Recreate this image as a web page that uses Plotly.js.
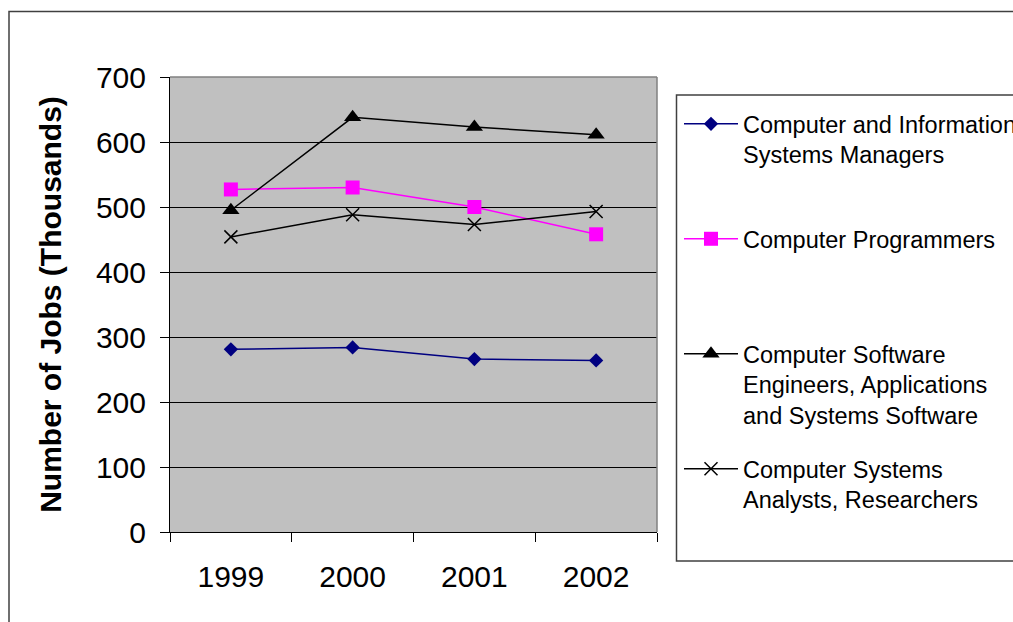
<!DOCTYPE html>
<html>
<head>
<meta charset="utf-8">
<script src="https://cdn.plot.ly/plotly-3.0.1.min.js"></script>
<style>html,body{margin:0;padding:0;background:#fff;overflow:hidden;}#chart{width:1013px;height:622px;overflow:hidden;}</style>
</head>
<body>
<div id="chart"></div>
<script>
var years = ["1999", "2000", "2001", "2002"];
var managers = [281, 284, 266, 264];
var programmers = [527, 530, 500, 458];
var softwareEngineers = [495, 638, 623, 611];
var systemsAnalysts = [454, 488, 473, 493];
var yTicks = [0, 100, 200, 300, 400, 500, 600, 700];

var FONT = "'Liberation Sans', Arial, sans-serif";

// plot area in px
var L = 170, R = 657, T = 77, B = 532, W = 1013, H = 622;
function px(x) { return (x - L) / (R - L); }
function py(y) { return (B - y) / (B - T); }

var traces = [
  {x: years, y: managers, name: "Computer and Information<br>Systems Managers", type: "scatter", mode: "lines+markers",
   line: {color: "#000080", width: 1.5}, marker: {symbol: "diamond", size: 11, color: "#000080"}, legend: "legend"},
  {x: years, y: programmers, name: "Computer Programmers", type: "scatter", mode: "lines+markers",
   line: {color: "#FF00FF", width: 1.5}, marker: {symbol: "square", size: 14, color: "#FF00FF"}, legend: "legend2"},
  {x: years, y: softwareEngineers, name: "Computer Software<br>Engineers, Applications<br>and Systems Software", type: "scatter", mode: "lines+markers",
   line: {color: "#000000", width: 1.5}, marker: {symbol: "triangle-up", size: 15, color: "#000000"}, legend: "legend3"},
  {x: years, y: systemsAnalysts, name: "Computer Systems<br>Analysts, Researchers", type: "scatter", mode: "lines+markers",
   line: {color: "#000000", width: 1.5}, marker: {symbol: "x-thin-open", size: 13, color: "#000000", line: {width: 1.5, color: "#000000"}}, legend: "legend4"}
];

function leg(yc) {
  return {xref: "container", yref: "container", x: 679 / W, y: 1 - (yc - 23) / H,
    xanchor: "left", yanchor: "top", valign: "top",
    bgcolor: "rgba(0,0,0,0)", borderwidth: 0, itemwidth: 54,
    font: {family: FONT, size: 23.5, color: "#000"}};
}

var layout = {
  width: W, height: H, autosize: false,
  margin: {l: L, r: W - R, t: T, b: H - B, pad: 0, autoexpand: false},
  paper_bgcolor: "#ffffff",
  plot_bgcolor: "#C0C0C0",
  font: {family: FONT, color: "#000"},
  showlegend: true,
  legend: leg(125),
  legend2: leg(240),
  legend3: leg(355),
  legend4: leg(470),
  xaxis: {
    type: "category", range: [-0.5, 3.5], tickson: "boundaries",
    ticks: "outside", ticklen: 9, tickwidth: 1, tickcolor: "#000",
    showline: true, linecolor: "#000", linewidth: 1,
    showgrid: false, zeroline: false,
    tickfont: {family: FONT, size: 30, color: "#000"},
    ticklabelstandoff: 18, fixedrange: true
  },
  yaxis: {
    range: [0, 700], tickvals: yTicks, ticktext: yTicks.map(String),
    ticks: "outside", ticklen: 9, tickwidth: 1, tickcolor: "#000",
    showline: true, linecolor: "#000", linewidth: 1,
    showgrid: true, gridcolor: "#000", gridwidth: 1, zeroline: false,
    tickfont: {family: FONT, size: 30, color: "#000"},
    ticklabelstandoff: 8,
    title: {text: "Number of Jobs (Thousands)", font: {family: FONT, size: 30, color: "#000", weight: 700}, standoff: 25},
    fixedrange: true
  },
  shapes: [
    {type: "rect", xref: "paper", yref: "paper", x0: px(9), x1: px(1030), y0: py(640), y1: py(11.5),
     line: {color: "#404040", width: 1.5}, fillcolor: "rgba(0,0,0,0)", layer: "below"},
    {type: "line", xref: "paper", yref: "paper", x0: 0, x1: 1, y0: 1, y1: 1, line: {color: "#808080", width: 1.5}, layer: "above"},
    {type: "line", xref: "paper", yref: "paper", x0: 1, x1: 1, y0: 0, y1: 1, line: {color: "#808080", width: 1.5}, layer: "above"},
    {type: "rect", xref: "paper", yref: "paper", x0: px(676.5), x1: px(1030), y0: py(561), y1: py(95),
     line: {color: "#404040", width: 1.5}, fillcolor: "#ffffff", layer: "below"}
  ]
};

Plotly.newPlot("chart", traces, layout, {displayModeBar: false, staticPlot: true});
</script>
</body>
</html>
